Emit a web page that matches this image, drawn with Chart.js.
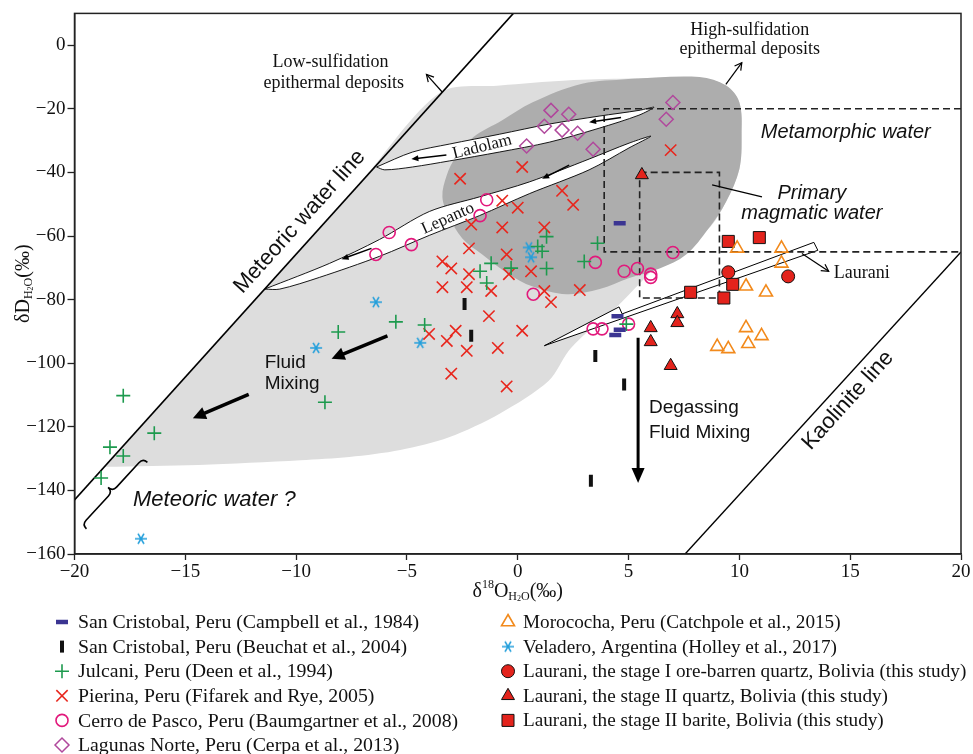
<!DOCTYPE html>
<html>
<head>
<meta charset="utf-8">
<script src="https://cdn.jsdelivr.net/npm/chart.js@4.4.1/dist/chart.umd.min.js"></script>
<style>
  html, body { margin: 0; padding: 0; background: #fff; }
  canvas { display: block; }
</style>
</head>
<body>
<canvas id="chart" width="973" height="754"></canvas>
<script>
// ---- axis ticks ----
const xTicks = [-20, -15, -10, -5, 0, 5, 10, 15, 20];
const yTicks = [0, -20, -40, -60, -80, -100, -120, -140, -160];

// ---- measured values [d18O, dD] ----
const sanCristobalCampbell = [[4.6, -56], [4.5, -85.2], [4.6, -89.5], [4.4, -91.1]];
const sanCristobalBeuchat = [[-2.4, -81.4], [-2.1, -91.4], [3.5, -97.7], [4.8, -106.7], [3.3, -137]];
const julcani = [[-17.8, -110.2], [-18.4, -126.4], [-17.8, -129.2], [-16.4, -122], [-18.8, -136.1],
  [-8.7, -112.3], [-8.1, -90.2], [-5.5, -87], [-4.2, -88], [-1.7, -71.1], [-1.4, -74.8], [-1.2, -68.6],
  [-0.3, -70.1], [0.9, -63.3], [1.3, -60.2], [1.1, -64.8], [1.3, -70.2], [3.0, -68], [3.6, -62.3], [4.9, -87.7]];
const pierina = [[0.2, -38.3], [-2.6, -42], [-0.7, -48.9], [0, -51.1], [2, -45.8], [2.5, -50.2], [-2.1, -56.4],
  [-0.7, -57.3], [1.2, -57.3], [6.9, -33], [-2.2, -63.9], [-0.5, -65.8], [-3.4, -68], [-3, -70.2], [-2.2, -72],
  [0.6, -71.1], [-0.4, -72], [-3.4, -76.1], [-2.3, -76.1], [-1.2, -77.3], [1.2, -77.3], [1.5, -80.8], [2.8, -77],
  [-1.3, -85.2], [0.2, -89.8], [-2.8, -89.8], [-4, -90.8], [-3.2, -93], [-2.3, -96.1], [-0.9, -95.2], [-3, -103.3], [-0.5, -107.3]];
const cerroDePasco = [[-5.8, -58.9], [-6.4, -65.8], [-4.8, -62.7], [-1.4, -48.6], [-1.7, -53.6], [0.7, -78.3],
  [3.5, -68.3], [4.8, -71.1], [5.4, -70.2], [6.0, -72], [6.0, -73], [7.0, -65.2], [3.4, -89.2], [3.8, -89.2], [5.0, -87.7]];
const lagunasNorte = [[1.5, -20.5], [2.3, -21.7], [1.2, -25.5], [2.0, -26.7], [2.7, -27.7], [0.4, -31.7], [3.4, -32.7], [7.0, -18], [6.7, -23.3]];
const morococha = [[9.9, -63.9], [11.9, -63.9], [11.9, -68.6], [10.3, -75.8], [11.2, -77.7], [10.3, -88.9], [11.0, -91.4], [10.4, -93.9], [9.0, -94.8], [9.5, -95.5]];
const veladero = [[-9.1, -95.2], [-17.0, -155.2], [-6.4, -80.8], [-4.4, -93.6], [0.5, -63.6], [0.6, -66.7]];
const lauraniStageI = [[9.5, -71.4], [12.2, -72.7]];
const lauraniQuartz = [[5.6, -40.8], [7.2, -84.5], [7.2, -87.3], [6.0, -88.9], [6.0, -93.3], [6.9, -100.8]];
const lauraniBarite = [[9.5, -61.7], [10.9, -60.5], [7.8, -77.7], [9.3, -79.5], [9.7, -75.2]];

// ---- reference fields and lines ----
const meteoricLine = [[-20, -143], [-0.2, 10]];
const kaoliniteLine = [[7.55, -160], [20, -65]];
const metamorphicBox = [[20, -20], [3.9, -20], [3.9, -65], [20, -65]];
const magmaticBox = [[5.5, -40], [9.1, -40], [9.1, -79.5], [5.5, -79.5], [5.5, -40]];
const lowSulfField = [[-18.6, -132.6], [-15, -104.3], [-11, -73.3], [-7, -42.3], [-3.5, -14.9], [-0.8, -12.7],
  [2.2, -11.1], [5.0, -10.5], [8.2, -10.2], [9.4, -12.7], [10.0, -18], [10.1, -28.3], [10.0, -38.9], [9.4, -49.2],
  [8.6, -57.7], [6.8, -65.8], [5.6, -74.2], [4.4, -82.7], [3.2, -89.8], [2.3, -96.1], [1.4, -105.5], [-0.8, -115.8],
  [-3.1, -123.3], [-5.3, -127.3], [-7.6, -129.5], [-9.8, -130.5], [-14.4, -132], [-18.6, -132.6]];
const highSulfField = [[5.0, -10.6], [8.2, -10.0], [9.4, -12.7], [10.0, -18], [10.1, -28.3], [10.0, -38.9], [9.4, -49.2],
  [8.6, -57.7], [7.6, -65.8], [6.4, -70.2], [5.0, -73.3], [3.7, -76.7], [2.2, -78.3], [0.65, -75.8], [-0.4, -72],
  [-1.6, -65.8], [-2.5, -60.8], [-3.1, -53.9], [-3.4, -47.7], [-3.2, -40.8], [-2.8, -35.2], [-2.0, -28.9],
  [-0.7, -23.6], [0.65, -18], [2.9, -12.1], [5.0, -10.6]];
const ladolamTrend = [[-6.37, -38.3], [-4.75, -33.6], [-3.09, -31.1], [-0.83, -28], [1.42, -24.8], [3.67, -22.3],
  [5.47, -20.5], [6.15, -19.5], [5.47, -22], [3.67, -26.1], [1.42, -30.5], [-0.83, -33.6], [-3.09, -36.4],
  [-4.75, -38.3], [-6.0, -39.2], [-6.37, -38.3]];
const lepantoTrend = [[-11.42, -76.7], [-8.49, -68.6], [-6.24, -61.1], [-3.99, -52.3], [-1.73, -47.7], [0.52, -43],
  [3.22, -35.8], [5.02, -30.8], [6.01, -28.6], [5.02, -32.3], [3.22, -39.2], [0.52, -46.7], [-1.73, -53.6],
  [-3.99, -59.8], [-6.24, -66.4], [-8.94, -73], [-10.74, -76.7], [-11.42, -76.7]];
const lauraniTrend = [[1.2, -94.5], [4.57, -82.3], [4.71, -84.5], [13.36, -62], [13.54, -64.5], [1.2, -94.5]];

const xy = arr => arr.map(([x, y]) => ({ x, y }));

// six-spoke asterisk marker for Veladero
function asterisk(color) {
  const c = document.createElement('canvas');
  c.width = c.height = 14;
  const g = c.getContext('2d');
  g.strokeStyle = color;
  g.lineWidth = 1.6;
  g.beginPath();
  for (const a of [0, 60, 120]) {
    const r = a * Math.PI / 180;
    g.moveTo(7 - Math.cos(r) * 6, 7 - Math.sin(r) * 6);
    g.lineTo(7 + Math.cos(r) * 6, 7 + Math.sin(r) * 6);
  }
  g.stroke();
  return c;
}

const series = [
  { label: 'San Cristobal, Peru (Campbell et al., 1984)', data: sanCristobalCampbell,
    style: { pointStyle: 'line', radius: 6, rotation: 0, lw: 4.5, stroke: '#3b3592', fill: 'transparent' } },
  { label: 'San Cristobal, Peru (Beuchat et al., 2004)', data: sanCristobalBeuchat,
    style: { pointStyle: 'line', radius: 6, rotation: 90, lw: 4, stroke: '#111', fill: 'transparent' } },
  { label: 'Julcani, Peru (Deen et al., 1994)', data: julcani,
    style: { pointStyle: 'cross', radius: 7, rotation: 0, lw: 1.6, stroke: '#1d9a4e', fill: 'transparent' } },
  { label: 'Pierina, Peru (Fifarek and Rye, 2005)', data: pierina,
    style: { pointStyle: 'crossRot', radius: 8, rotation: 0, lw: 1.6, stroke: '#e8261d', fill: 'transparent' } },
  { label: 'Cerro de Pasco, Peru (Baumgartner et al., 2008)', data: cerroDePasco,
    style: { pointStyle: 'circle', radius: 6, rotation: 0, lw: 1.6, stroke: '#e2197c', fill: 'transparent' } },
  { label: 'Lagunas Norte, Peru (Cerpa et al., 2013)', data: lagunasNorte,
    style: { pointStyle: 'rectRot', radius: 7, rotation: 0, lw: 1.5, stroke: '#b0489c', fill: 'transparent' } },
  { label: 'Morococha, Peru (Catchpole et al., 2015)', data: morococha,
    style: { pointStyle: 'triangle', radius: 7.5, rotation: 0, lw: 1.6, stroke: '#f28a1c', fill: 'transparent' } },
  { label: 'Veladero, Argentina (Holley et al., 2017)', data: veladero,
    style: { pointStyle: asterisk('#239fdb'), radius: 6, rotation: 0, lw: 1.5, stroke: '#239fdb', fill: 'transparent' } },
  { label: 'Laurani, the stage I ore-barren quartz, Bolivia (this study)', data: lauraniStageI,
    style: { pointStyle: 'circle', radius: 6.5, rotation: 0, lw: 1, stroke: '#111', fill: '#e3231c' } },
  { label: 'Laurani, the stage II quartz, Bolivia (this study)', data: lauraniQuartz,
    style: { pointStyle: 'triangle', radius: 7.5, rotation: 0, lw: 1, stroke: '#111', fill: '#e3231c' } },
  { label: 'Laurani, the stage II barite, Bolivia (this study)', data: lauraniBarite,
    style: { pointStyle: 'rect', radius: 8.5, rotation: 0, lw: 1, stroke: '#111', fill: '#e3231c' } },
];

const shape = (data, opts) => Object.assign({
  data: xy(data), showLine: true, pointRadius: 0, tension: 0, fill: false,
  borderColor: '#000', borderWidth: 1, backgroundColor: 'transparent',
}, opts);

const datasets = [
  ...series.map(s => ({
    label: s.label, data: xy(s.data), order: 0,
    pointStyle: s.style.pointStyle, pointRadius: s.style.radius, pointRotation: s.style.rotation,
    pointBorderWidth: s.style.lw, pointBorderColor: s.style.stroke, pointBackgroundColor: s.style.fill,
  })),
  shape(magmaticBox, { order: 5, borderDash: [7, 4], borderWidth: 1.6, borderColor: '#222' }),
  shape(metamorphicBox, { order: 5, borderDash: [7, 4], borderWidth: 1.6, borderColor: '#222' }),
  shape(meteoricLine, { order: 6, borderWidth: 1.6 }),
  shape(kaoliniteLine, { order: 6, borderWidth: 1.4 }),
  shape(lauraniTrend, { order: 7, fill: 'shape', backgroundColor: '#fff', borderWidth: 1 }),
  shape(lepantoTrend, { order: 8, fill: 'shape', backgroundColor: '#fff', borderWidth: 0.9, tension: 0.3 }),
  shape(ladolamTrend, { order: 8, fill: 'shape', backgroundColor: '#fff', borderWidth: 0.9, tension: 0.3 }),
  shape(highSulfField, { order: 9, fill: 'shape', backgroundColor: '#adadad', borderWidth: 0, tension: 0.35 }),
  shape(lowSulfField, { order: 10, fill: 'shape', backgroundColor: '#dddddd', borderWidth: 0, tension: 0.3 }),
];

// ---- annotations (positions in data units) ----
const SERIF = '"Liberation Serif", "Times New Roman", serif';
const SANS = '"Liberation Sans", Arial, sans-serif';
const notes = [
  { t: 'Low-sulfidation', x: -8.45, y: -5.5, font: `18px ${SERIF}` },
  { t: 'epithermal deposits', x: -8.3, y: -12.0, font: `18px ${SERIF}` },
  { t: 'High-sulfidation', x: 10.47, y: 4.8, font: `18px ${SERIF}` },
  { t: 'epithermal deposits', x: 10.47, y: -1.4, font: `18px ${SERIF}` },
  { t: 'Metamorphic water', x: 14.8, y: -27.3, font: `italic 20px ${SANS}` },
  { t: 'Primary', x: 13.27, y: -46.7, font: `italic 20px ${SANS}` },
  { t: 'magmatic water', x: 13.27, y: -53.0, font: `italic 20px ${SANS}` },
  { t: 'Laurani', x: 14.26, y: -71.7, font: `18px ${SERIF}`, align: 'left' },
  { t: 'Meteoric water line', x: -9.84, y: -55.5, font: `22px ${SANS}`, rot: -48 },
  { t: 'Kaolinite line', x: 14.9, y: -111.7, font: `22px ${SANS}`, rot: -48 },
  { t: 'Fluid', x: -11.42, y: -99.8, font: `19px ${SANS}`, align: 'left' },
  { t: 'Mixing', x: -11.42, y: -106.4, font: `19px ${SANS}`, align: 'left' },
  { t: 'Degassing', x: 5.92, y: -113.9, font: `19px ${SANS}`, align: 'left' },
  { t: 'Fluid Mixing', x: 5.92, y: -122.0, font: `19px ${SANS}`, align: 'left' },
  { t: 'Meteoric water ?', x: -17.36, y: -143.0, font: `italic 22px ${SANS}`, align: 'left' },
  { t: 'Ladolam', x: -1.6, y: -32.0, font: `17px ${SERIF}`, rot: -14 },
  { t: 'Lepanto', x: -3.15, y: -54.5, font: `17px ${SERIF}`, rot: -24 },
];
const arrows = [
  { from: [-3.4, -14.8], to: [-4.12, -9.2], lw: 1.2, head: 7, open: true },
  { from: [9.39, -12.3], to: [10.11, -5.5], lw: 1.2, head: 7, open: true },
  { from: [12.82, -65.5], to: [14.03, -71.1], lw: 1.2, head: 7, open: true },
  { from: [8.77, -43.9], to: [11.02, -47.7], lw: 1.2, head: 0 },
  { from: [-5.88, -91.4], to: [-8.4, -98.6], lw: 3.5, head: 13, hw: 6.5 },
  { from: [-12.14, -109.8], to: [-14.66, -117.3], lw: 3.5, head: 13, hw: 6.5 },
  { from: [5.43, -92.0], to: [5.43, -137.7], lw: 3, head: 15, hw: 6.5 },
  { from: [4.66, -22.7], to: [3.22, -24.2], lw: 1.5, head: 7, hw: 3 },
  { from: [-3.22, -34.5], to: [-4.8, -35.8], lw: 1.5, head: 7, hw: 3 },
  { from: [2.32, -37.7], to: [1.1, -42.0], lw: 1.5, head: 7, hw: 3 },
  { from: [-6.6, -63.9], to: [-7.95, -67.3], lw: 1.5, head: 7, hw: 3 },
];
const braceEnds = [[-19.66, -150.8], [-16.91, -129.9]];

function drawArrow(ctx, x1, y1, x2, y2, a) {
  const ang = Math.atan2(y2 - y1, x2 - x1);
  const c = Math.cos(ang), s = Math.sin(ang);
  ctx.lineWidth = a.lw;
  ctx.beginPath();
  const back = a.head && !a.open ? a.head * 0.7 : 0;
  ctx.moveTo(x1, y1);
  ctx.lineTo(x2 - c * back, y2 - s * back);
  ctx.stroke();
  if (!a.head) return;
  const hw = a.hw || a.head * 0.55;
  const bx = x2 - c * a.head, by = y2 - s * a.head;
  ctx.beginPath();
  ctx.moveTo(bx - s * hw, by + c * hw);
  ctx.lineTo(x2, y2);
  ctx.lineTo(bx + s * hw, by - c * hw);
  if (a.open) { ctx.lineWidth = 1.2; ctx.stroke(); } else { ctx.closePath(); ctx.fill(); }
}

function drawBrace(ctx, ax, ay, bx, by) {
  const L = Math.hypot(bx - ax, by - ay);
  const ux = (bx - ax) / L, uy = (by - ay) / L;
  const nx = uy, ny = -ux; // points up-left
  const P = (s, t) => [ax + ux * s + nx * t, ay + uy * s + ny * t];
  const w = 6;
  ctx.lineWidth = 1.6;
  ctx.beginPath();
  ctx.moveTo(...P(0, -w));
  ctx.quadraticCurveTo(...P(0, 0), ...P(w, 0));
  ctx.lineTo(...P(L / 2 - w, 0));
  ctx.quadraticCurveTo(...P(L / 2, 0), ...P(L / 2, w));
  ctx.quadraticCurveTo(...P(L / 2, 0), ...P(L / 2 + w, 0));
  ctx.lineTo(...P(L - w, 0));
  ctx.quadraticCurveTo(...P(L, 0), ...P(L, -w));
  ctx.stroke();
}

// rich text: segments [text, kind]
function richText(ctx, parts, x, y) {
  const sizes = { n: 20, sup: 12, sub: 12, sub2: 8 };
  const shift = { n: 0, sup: -7, sub: 5, sub2: 7 };
  let w = 0;
  parts.forEach(([t, k]) => { ctx.font = `${sizes[k]}px ${SERIF}`; w += ctx.measureText(t).width; });
  let cx = x - w / 2;
  ctx.textAlign = 'left';
  ctx.textBaseline = 'middle';
  parts.forEach(([t, k]) => {
    ctx.font = `${sizes[k]}px ${SERIF}`;
    ctx.fillText(t, cx, y + shift[k]);
    cx += ctx.measureText(t).width;
  });
}

const annotate = {
  id: 'annotate',
  afterDatasetsDraw(chart) {
    const { ctx, chartArea: ca, scales } = chart;
    const X = v => scales.x.getPixelForValue(v), Y = v => scales.y.getPixelForValue(v);
    ctx.save();
    ctx.strokeStyle = '#000';
    ctx.fillStyle = '#000';
    arrows.forEach(a => drawArrow(ctx, X(a.from[0]), Y(a.from[1]), X(a.to[0]), Y(a.to[1]), a));
    drawBrace(ctx, X(braceEnds[0][0]), Y(braceEnds[0][1]), X(braceEnds[1][0]), Y(braceEnds[1][1]));
    ctx.fillStyle = '#111';
    notes.forEach(n => {
      ctx.save();
      ctx.translate(X(n.x), Y(n.y));
      if (n.rot) ctx.rotate(n.rot * Math.PI / 180);
      ctx.font = n.font;
      ctx.textAlign = n.align || 'center';
      ctx.textBaseline = 'middle';
      ctx.fillText(n.t, 0, 0);
      ctx.restore();
    });
    // frame
    ctx.lineWidth = 1.5;
    ctx.strokeStyle = '#222';
    ctx.strokeRect(ca.left, ca.top, ca.right - ca.left, ca.bottom - ca.top);
    ctx.restore();
  },
  afterDraw(chart) {
    const { ctx, chartArea: ca } = chart;
    ctx.save();
    ctx.fillStyle = '#111';
    // axis titles
    richText(ctx, [['δ', 'n'], ['18', 'sup'], ['O', 'n'], ['H', 'sub'], ['2', 'sub2'], ['O', 'sub'], ['(‰)', 'n']], (ca.left + ca.right) / 2, 592);
    ctx.save();
    ctx.translate(24, (ca.top + ca.bottom) / 2);
    ctx.rotate(-Math.PI / 2);
    richText(ctx, [['δD', 'n'], ['H', 'sub'], ['2', 'sub2'], ['O', 'sub'], ['(‰)', 'n']], 0, 0);
    ctx.restore();
    // legend, two columns
    const H = Chart.helpers;
    series.forEach((s, i) => {
      const col = i < 6 ? 0 : 1;
      const row = col ? i - 6 : i;
      const mx = col ? 508 : 62, tx = col ? 523 : 78;
      const yy = 622 + row * 24.6;
      ctx.save();
      ctx.strokeStyle = s.style.stroke;
      ctx.fillStyle = s.style.fill;
      ctx.lineWidth = s.style.lw;
      H.drawPoint(ctx, { pointStyle: s.style.pointStyle, radius: s.style.radius, rotation: s.style.rotation, borderWidth: s.style.lw }, mx, yy);
      ctx.restore();
      ctx.font = `${col ? 19.2 : 19.8}px ${SERIF}`;
      ctx.textAlign = 'left';
      ctx.textBaseline = 'middle';
      ctx.fillText(s.label, tx, yy + 1);
    });
    ctx.restore();
  }
};

const minus = v => String(v).replace('-', '\u2212');

new Chart(document.getElementById('chart').getContext('2d'), {
  type: 'scatter',
  data: { datasets },
  options: {
    responsive: false,
    animation: false,
    events: [],
    layout: { padding: { top: 11, right: 12, left: 0, bottom: 0 } },
    plugins: { legend: { display: false }, tooltip: { enabled: false } },
    scales: {
      x: {
        type: 'linear', min: -20, max: 20,
        afterBuildTicks: s => { s.ticks = xTicks.map(v => ({ value: v })); },
        afterFit: s => { s.height = 200; },
        grid: { drawOnChartArea: false, drawTicks: true, tickLength: 6, tickColor: '#222', tickWidth: 1.3 },
        border: { display: true, color: '#222', width: 1.5 },
        ticks: { color: '#111', font: { family: SERIF, size: 19 }, padding: 1, maxRotation: 0, callback: minus },
      },
      y: {
        type: 'linear', min: -160, max: 10,
        afterBuildTicks: s => { s.ticks = yTicks.map(v => ({ value: v })); },
        afterFit: s => { s.width = 74.5; },
        grid: { drawOnChartArea: false, drawTicks: true, tickLength: 7, tickColor: '#222', tickWidth: 1.3 },
        border: { display: true, color: '#222', width: 1.5 },
        ticks: { color: '#111', font: { family: SERIF, size: 19 }, padding: 2, callback: minus },
      },
    },
  },
  plugins: [annotate],
});
</script>
</body>
</html>
